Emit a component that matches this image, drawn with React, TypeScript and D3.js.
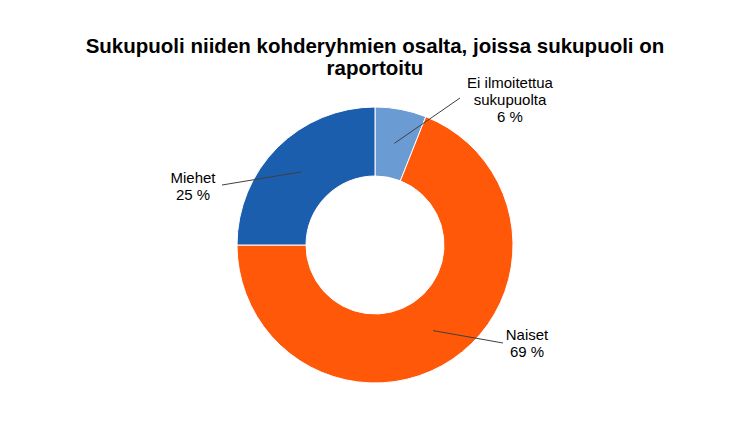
import React from "react";
import * as d3 from "d3";

const categories = ["Ei ilmoitettua sukupuolta", "Naiset", "Miehet"];
const values = [6, 69, 25];
const labelLines = [["Ei ilmoitettua", "sukupuolta", "6 %"], ["Naiset", "69 %"], ["Miehet", "25 %"]];
const colors = ["#6A9BD3", "#FF5809", "#1B5EAD"];

// label text anchor (center x, first baseline y) and leader line end point
const labelPos = [
  { x: 510, y: 88, lx: 460, ly: 98 },
  { x: 527, y: 340, lx: 503, ly: 343 },
  { x: 193, y: 183, lx: 222, ly: 185 },
];

export default function App() {
  const width = 750;
  const height = 436;
  const cx = 375;
  const cy = 245;
  const outerR = 138;
  const innerR = 69;

  const pie = d3.pie<number>().sort(null).value((d) => d);
  const arcs = pie(values);
  const arc = d3.arc<d3.PieArcDatum<number>>().innerRadius(innerR).outerRadius(outerR);

  return (
    <div style={{ margin: -8 }}>
      <svg width={width} height={height} style={{ display: "block", background: "#fff" }}>
        <g fontFamily="'Liberation Sans', Arial, sans-serif" fill="#000">
          <text x={375} y={53} textAnchor="middle" fontSize={20.5} fontWeight="bold">
            Sukupuoli niiden kohderyhmien osalta, joissa sukupuoli on
          </text>
          <text x={375} y={75} textAnchor="middle" fontSize={20.5} fontWeight="bold">
            raportoitu
          </text>
        </g>
        <g transform={`translate(${cx},${cy})`}>
          {arcs.map((a, i) => (
            <path key={categories[i]} d={arc(a) || ""} fill={colors[i]} stroke="#fff" strokeWidth={1} />
          ))}
        </g>
        {arcs.map((a, i) => {
          const [px, py] = arc.centroid(a);
          const p = labelPos[i];
          return (
            <g key={"l" + i}>
              <line x1={cx + px} y1={cy + py} x2={p.lx} y2={p.ly} stroke="#404040" strokeWidth={1} />
              <text
                x={p.x}
                y={p.y}
                textAnchor="middle"
                fontSize={15}
                fontFamily="'Liberation Sans', Arial, sans-serif"
                fill="#000"
              >
                {labelLines[i].map((t, j) => (
                  <tspan key={j} x={p.x} dy={j === 0 ? 0 : 17}>
                    {t}
                  </tspan>
                ))}
              </text>
            </g>
          );
        })}
      </svg>
    </div>
  );
}
